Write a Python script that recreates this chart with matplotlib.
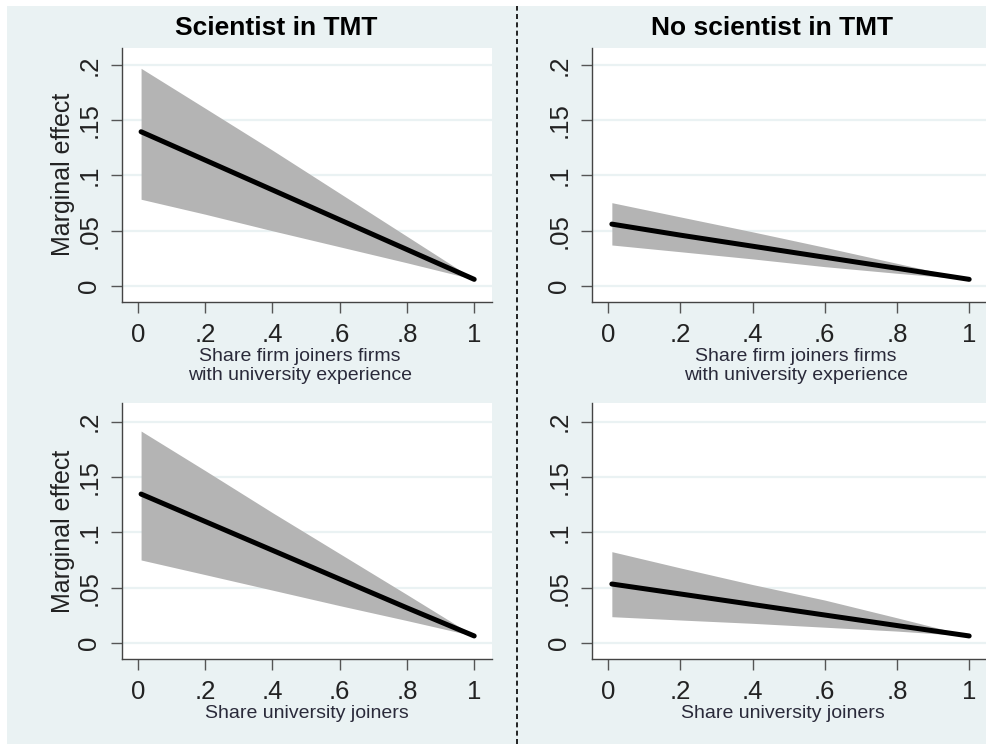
import matplotlib.pyplot as plt
from matplotlib.patches import Rectangle
from matplotlib.lines import Line2D

plt.rcParams['font.family'] = ['Liberation Sans', 'DejaVu Sans']

# --- data ---
x_pts = [0.01, 0.2, 0.4, 0.6, 0.8, 1.0]

# top-left: scientist in TMT, firm joiners
tl_mid = [0.1396, 0.114, 0.087, 0.060, 0.033, 0.006]
tl_hi = [0.197, 0.161, 0.123, 0.084, 0.045, 0.006]
tl_lo = [0.0785, 0.065, 0.050, 0.0355, 0.021, 0.006]

# top-right: no scientist in TMT, firm joiners
tr_mid = [0.056, 0.046, 0.036, 0.026, 0.016, 0.006]
tr_hi = [0.0754, 0.0625, 0.049, 0.035, 0.0205, 0.006]
tr_lo = [0.0371, 0.031, 0.0245, 0.0175, 0.0115, 0.006]

# bottom-left: scientist in TMT, university joiners
bl_mid = [0.1347, 0.110, 0.084, 0.058, 0.032, 0.0066]
bl_hi = [0.1916, 0.156, 0.118, 0.081, 0.044, 0.0066]
bl_lo = [0.0752, 0.062, 0.048, 0.034, 0.0205, 0.0066]

# bottom-right: no scientist in TMT, university joiners
br_mid = [0.0535, 0.0445, 0.035, 0.0255, 0.016, 0.0066]
br_hi = [0.0827, 0.068, 0.053, 0.039, 0.023, 0.0066]
br_lo = [0.024, 0.021, 0.018, 0.0145, 0.011, 0.0066]

x_ticks = [0, 0.2, 0.4, 0.6, 0.8, 1.0]
x_ticklabels = ['0', '.2', '.4', '.6', '.8', '1']
y_ticks = [0, 0.05, 0.1, 0.15, 0.2]
y_ticklabels = ['0', '.05', '.1', '.15', '.2']

titles = ['Scientist in TMT', 'No scientist in TMT']
xlab_top = 'Share firm joiners firms\nwith university experience'
xlab_bot = 'Share university joiners'
ylab = 'Marginal effect'

W, H = 987, 744
BG = '#eaf2f3'
BAND = '#b4b4b4'
TXT = '#222222'

fig = plt.figure(figsize=(W / 100, H / 100), dpi=100, facecolor='white')

# light background panel (white strip at top and left)
fig.patches.append(Rectangle((7 / W, 0), 1.01 - 7 / W, 1 - 6 / H,
                             transform=fig.transFigure, facecolor=BG,
                             edgecolor='none', zorder=-5))


def px_box(x0, y0, x1, y1):
    return [x0 / W, 1 - y1 / H, (x1 - x0) / W, (y1 - y0) / H]


panels = [
    (px_box(122, 48, 492, 302), tl_mid, tl_hi, tl_lo, (-0.0467, 1.0529), (-0.0145, 0.2154)),
    (px_box(592, 48, 987, 302), tr_mid, tr_hi, tr_lo, (-0.045, 1.0494), (-0.0145, 0.2154)),
    (px_box(122, 403, 492, 659), bl_mid, bl_hi, bl_lo, (-0.0467, 1.0529), (-0.0142, 0.2169)),
    (px_box(592, 403, 987, 659), br_mid, br_hi, br_lo, (-0.045, 1.0494), (-0.0142, 0.2169)),
]

for box, mid, hi, lo, xl, yl in panels:
    ax = fig.add_axes(box)
    ax.set_facecolor('white')
    ax.fill_between(x_pts, lo, hi, color=BAND, linewidth=0, zorder=2)
    ax.plot(x_pts, mid, color='black', lw=3.6, solid_capstyle='round', zorder=3)
    ax.set_xlim(*xl)
    ax.set_ylim(*yl)
    ax.set_xticks(x_ticks)
    ax.set_xticklabels(x_ticklabels)
    ax.set_yticks(y_ticks)
    ax.set_yticklabels(y_ticklabels, rotation=90, va='center')
    ax.tick_params(axis='both', direction='out', length=8, width=1,
                   color='#555555', labelsize=18.5, labelcolor=TXT, pad=7)
    ax.grid(axis='y', color=BG, lw=1.6, zorder=1)
    ax.grid(axis='x', visible=False)
    ax.set_axisbelow(True)
    for s in ['top', 'right']:
        ax.spines[s].set_visible(False)
    for s in ['left', 'bottom']:
        ax.spines[s].set_color('#444444')
        ax.spines[s].set_linewidth(1.0)

# titles
fig.text(276 / W, 1 - 28 / H, titles[0], ha='center', va='center',
         fontsize=19, fontweight='bold', color='black')
fig.text(772 / W, 1 - 28 / H, titles[1], ha='center', va='center',
         fontsize=19, fontweight='bold', color='black')

# x axis titles
fig.text(300 / W, 1 - 366 / H, xlab_top, ha='center', va='center',
         fontsize=14, color='#2a2a3a', linespacing=1.15)
fig.text(796 / W, 1 - 366 / H, xlab_top, ha='center', va='center',
         fontsize=14, color='#2a2a3a', linespacing=1.15)
fig.text(307 / W, 1 - 713 / H, xlab_bot, ha='center', va='center',
         fontsize=14, color='#2a2a3a')
fig.text(783 / W, 1 - 713 / H, xlab_bot, ha='center', va='center',
         fontsize=14, color='#2a2a3a')

# y axis titles
fig.text(63 / W, 1 - 174 / H, ylab, ha='center', va='center', rotation=90,
         fontsize=18, color=TXT)
fig.text(63 / W, 1 - 531 / H, ylab, ha='center', va='center', rotation=90,
         fontsize=18, color=TXT)

# dashed divider between the two columns
fig.add_artist(Line2D([517 / W, 517 / W], [0, 1 - 6 / H], transform=fig.transFigure,
                      color='black', lw=1.2, linestyle=(0, (3, 2))))

fig.savefig('out.png', dpi=100, facecolor=fig.get_facecolor())
